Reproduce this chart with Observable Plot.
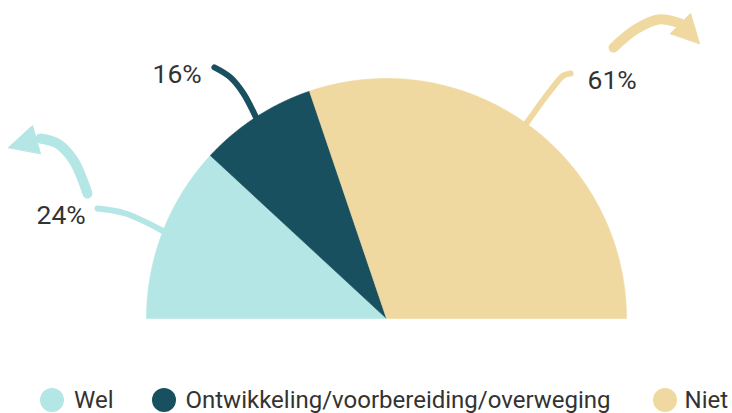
<!DOCTYPE html>
<html><head><meta charset="utf-8">
<script src="https://cdn.jsdelivr.net/npm/d3@7"></script>
<script src="https://cdn.jsdelivr.net/npm/@observablehq/plot@0.6"></script>
<style>
body{margin:0;background:#fff;font-family:Roboto,sans-serif;}
#wrap{position:relative;width:732px;height:413px;overflow:hidden;}
#chart{position:absolute;left:0;top:0;}
#legend{position:absolute;left:40px;top:388px;display:flex;align-items:center;font-size:24px;line-height:24px;color:#333;white-space:nowrap;}
.item{display:flex;align-items:center;margin-right:38px;}
.item:nth-child(2){margin-right:42px;}
.dot{width:24px;height:24px;border-radius:50%;margin-right:10px;flex:none;}
.item:nth-child(3) .dot{margin-right:8px;}
</style></head><body>
<div id="wrap"><div id="chart"></div><div id="legend"></div></div>
<script>
// ---- data ----
const categories = ["Wel", "Ontwikkeling/voorbereiding/overweging", "Niet"];
const values = [24, 16, 61];
const colors = ["#b3e6e4", "#185060", "#f0d9a1"];
const labels = ["24%", "16%", "61%"];
// label anchor positions (pie radius units, centre = 0,0)
const labelX = [-1.458, -0.975, 0.8375];
const labelY = [0.392, 0.983, 0.958];
// leader line waypoints, drawn from each slice's mid-edge outward
const leaderX = [[-1.0875, -1.204], [-0.596, -0.65, -0.717], [0.683, 0.7375, 0.767]];
const leaderY = [[0.4375, 0.458], [0.9375, 1.004, 1.046], [0.95, 1.0125, 1.021]];
// decorative curved arrows (shaft waypoints + head triangle)
const arrowCat = ["Wel", "Niet"];
const arrowShaftX = [[-1.246, -1.304, -1.371, -1.442], [0.946, 1.0375, 1.133, 1.225]];
const arrowShaftY = [[0.521, 0.658, 0.729, 0.75], [1.129, 1.204, 1.246, 1.229]];
const arrowHeadX = [[-1.575, -1.475, -1.442], [1.304, 1.267, 1.183]];
const arrowHeadY = [[0.7125, 0.804, 0.6875], [1.146, 1.271, 1.1875]];

// ---- build tables ----
const total = d3.sum(values);
const slices = [];
let cum = 0;
const mids = [];
categories.forEach((c, i) => {
  const a0 = Math.PI - (cum / total) * Math.PI;
  cum += values[i];
  const a1 = Math.PI - (cum / total) * Math.PI;
  mids.push((a0 + a1) / 2);
  const n = 120;
  slices.push({cat: c, x: 0, y: 0});
  for (let k = 0; k <= n; k++) {
    const a = a0 + (a1 - a0) * k / n;
    slices.push({cat: c, x: Math.cos(a), y: Math.sin(a)});
  }
  slices.push({cat: c, x: 0, y: 0});
});
const leaders = [];
categories.forEach((c, i) => {
  leaders.push({cat: c, x: Math.cos(mids[i]), y: Math.sin(mids[i])});
  leaderX[i].forEach((x, k) => leaders.push({cat: c, x, y: leaderY[i][k]}));
});
const shafts = [], heads = [];
arrowCat.forEach((c, i) => {
  arrowShaftX[i].forEach((x, k) => shafts.push({cat: c, x, y: arrowShaftY[i][k]}));
  arrowHeadX[i].forEach((x, k) => heads.push({cat: c, x, y: arrowHeadY[i][k]}));
});
const labelData = labels.map((t, i) => ({t, x: labelX[i], y: labelY[i]}));

const chart = Plot.plot({
  width: 732, height: 330,
  marginLeft: 146, marginRight: 106, marginTop: 78, marginBottom: 12,
  x: {domain: [-1, 1], axis: null},
  y: {domain: [0, 1], axis: null},
  color: {domain: categories, range: colors},
  style: {fontFamily: "Roboto, sans-serif", background: "white", overflow: "visible"},
  marks: [
    Plot.line(leaders, {x: "x", y: "y", z: "cat", stroke: "cat", strokeWidth: 6, curve: "catmull-rom", strokeLinecap: "round"}),
    Plot.line(slices, {x: "x", y: "y", z: "cat", fill: "cat", stroke: "cat", strokeWidth: 0.6, curve: "linear"}),
    Plot.line(shafts, {x: "x", y: "y", z: "cat", stroke: "cat", strokeWidth: 10, curve: "catmull-rom", strokeLinecap: "round"}),
    Plot.line(heads, {x: "x", y: "y", z: "cat", fill: "cat", stroke: "cat", strokeWidth: 1, curve: "linear-closed"}),
    Plot.text(labelData, {x: "x", y: "y", text: "t", textAnchor: "start", lineAnchor: "bottom", fontSize: 26.5, fill: "#333"})
  ]
});
document.getElementById("chart").appendChild(chart);

const legend = document.getElementById("legend");
const colorScale = chart.scale("color");
categories.forEach((c, i) => {
  const item = document.createElement("div");
  item.className = "item";
  const dot = document.createElement("span");
  dot.className = "dot";
  dot.style.background = colorScale.range[i];
  const txt = document.createElement("span");
  txt.textContent = c;
  item.appendChild(dot); item.appendChild(txt);
  legend.appendChild(item);
});
</script>
</body></html>
